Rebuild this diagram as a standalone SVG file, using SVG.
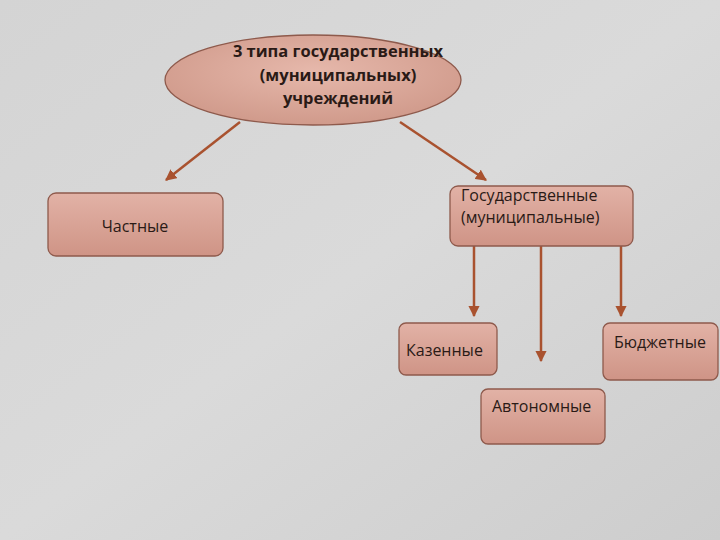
<svg xmlns="http://www.w3.org/2000/svg" width="720" height="540" viewBox="0 0 720 540">
<defs>
<linearGradient id="bg" x1="0" y1="0" x2="1" y2="1">
<stop offset="0" stop-color="#d4d4d4"/><stop offset="0.5" stop-color="#dadada"/><stop offset="1" stop-color="#cdcdcd"/>
</linearGradient>
<linearGradient id="fill" x1="0" y1="0" x2="0" y2="1">
<stop offset="0" stop-color="#e2b2a6"/><stop offset="1" stop-color="#cf9486"/>
</linearGradient>
<radialGradient id="efill" cx="0.5" cy="0.4" r="0.6">
<stop offset="0" stop-color="#e6b8ab"/><stop offset="1" stop-color="#d09a8b"/>
</radialGradient>
<marker id="ah" viewBox="0 0 10 10" refX="9" refY="5" markerWidth="4.5" markerHeight="4.5" orient="auto">
<path d="M0,0 L10,5 L0,10 z" fill="#a9522f"/>
</marker>
</defs>
<style>
.box{fill:url(#fill);stroke:#8e5a4c;stroke-width:1.3}
.t{font-family:"Open Sans","Liberation Sans",sans-serif;font-size:16px;fill:#2a1a16}
.b{font-family:"Open Sans","Liberation Sans",sans-serif;font-size:16.5px;font-weight:bold;fill:#2a1a16}
.c{stroke:#a9522f;stroke-width:2.5;fill:none;marker-end:url(#ah)}
</style>
<rect width="720" height="540" fill="url(#bg)"/>
<g id="connectors">
<line class="c" x1="240" y1="122" x2="166" y2="180"/>
<line class="c" x1="400" y1="122" x2="486" y2="180"/>
<line class="c" x1="474" y1="246" x2="474" y2="316"/>
<line class="c" x1="541" y1="246" x2="541" y2="361"/>
<line class="c" x1="621" y1="246" x2="621" y2="316"/>
</g>
<g id="root">
<ellipse cx="313" cy="80" rx="148" ry="45" fill="url(#efill)" stroke="#8e5a4c" stroke-width="1.3"/>
<text class="b" x="338" y="57" text-anchor="middle">3 типа государственных</text>
<text class="b" x="338" y="81" text-anchor="middle">(муниципальных)</text>
<text class="b" x="338" y="104" text-anchor="middle">учреждений</text>
</g>
<g id="private">
<rect class="box" x="48" y="193" width="175" height="63" rx="8"/>
<text class="t" x="135" y="232" text-anchor="middle">Частные</text>
</g>
<g id="state">
<rect class="box" x="450" y="186" width="183" height="60" rx="8"/>
<text class="t" x="461" y="201">Государственные</text>
<text class="t" x="461" y="223">(муниципальные)</text>
</g>
<g id="kazennye">
<rect class="box" x="399" y="323" width="98" height="52" rx="7"/>
<text class="t" x="406" y="356">Казенные</text>
</g>
<g id="budget">
<rect class="box" x="603" y="323" width="115" height="57" rx="7"/>
<text class="t" x="614" y="348">Бюджетные</text>
</g>
<g id="auto">
<rect class="box" x="481" y="389" width="124" height="55" rx="7"/>
<text class="t" x="492" y="412">Автономные</text>
</g>
</svg>
